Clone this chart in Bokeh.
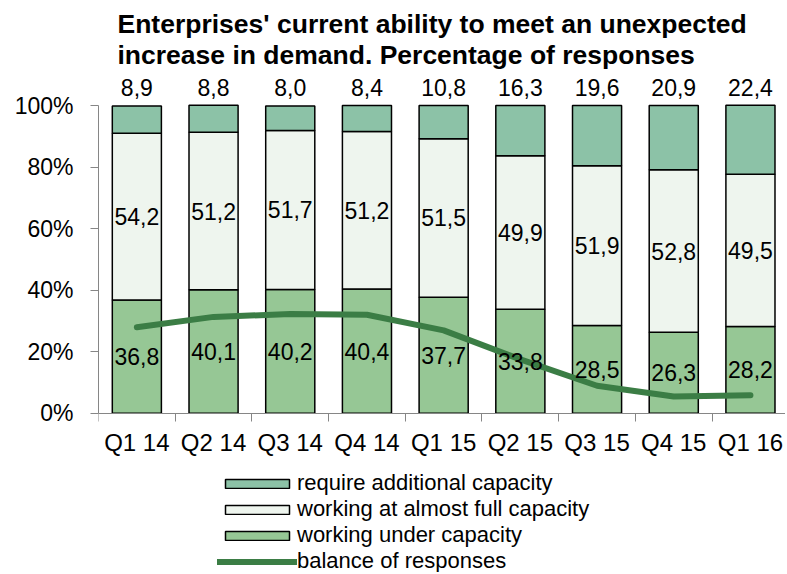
from bokeh.plotting import figure
from bokeh.models import (Range1d, FixedTicker, ColumnDataSource, LabelSet,
                          Legend, LegendItem, Title)
from bokeh.core.properties import value
from bokeh.embed import file_html
from bokeh.resources import INLINE

quarters = ["Q1 14", "Q2 14", "Q3 14", "Q4 14", "Q1 15", "Q2 15", "Q3 15", "Q4 15", "Q1 16"]
require_additional = [8.9, 8.8, 8.0, 8.4, 10.8, 16.3, 19.6, 20.9, 22.4]
almost_full = [54.2, 51.2, 51.7, 51.2, 51.5, 49.9, 51.9, 52.8, 49.5]
under_capacity = [36.8, 40.1, 40.2, 40.4, 37.7, 33.8, 28.5, 26.3, 28.2]
balance = [27.9, 31.3, 32.2, 32.0, 26.9, 17.5, 8.9, 5.4, 5.8]
y_ticks = [0, 20, 40, 60, 80, 100]
y_tick_labels = ["0%", "20%", "40%", "60%", "80%", "100%"]

FONT = "Liberation Sans"
C_TOP = "#8CC2A7"
C_MID = "#EEF5EE"
C_BOT = "#96C795"
C_LINE = "#3B7D45"
AX = "#868686"

n = len(quarters)
xc = [i + 0.5 for i in range(n)]
fmt = lambda v: f"{v:.1f}".replace(".", ",")

b0 = [0.0] * n
b1 = under_capacity
b2 = [u + f for u, f in zip(under_capacity, almost_full)]
b3 = [t + r for t, r in zip(b2, require_additional)]

src = ColumnDataSource(dict(
    x=xc, b0=b0, b1=b1, b2=b2, b3=b3,
    m_bot=[(a + b) / 2 for a, b in zip(b0, b1)],
    m_mid=[(a + b) / 2 for a, b in zip(b1, b2)],
    top=[100.0] * n,
    l_bot=[fmt(v) for v in under_capacity],
    l_mid=[fmt(v) for v in almost_full],
    l_top=[fmt(v) for v in require_additional],
    bal=balance,
))

p = figure(width=785, height=572, output_backend="svg", toolbar_location=None,
           x_range=Range1d(0, 8.957), y_range=Range1d(-51.8, 109.45),
           min_border_left=98, min_border_right=0, min_border_top=67,
           min_border_bottom=0)
p.xgrid.visible = False
p.ygrid.visible = False
p.outline_line_color = None
p.background_fill_color = "white"
p.border_fill_color = "white"

W = 0.64
r_bot = p.vbar(x="x", bottom="b0", top="b1", width=W, source=src,
               fill_color=C_BOT, line_color="black", line_width=1.5)
r_mid = p.vbar(x="x", bottom="b1", top="b2", width=W, source=src,
               fill_color=C_MID, line_color="black", line_width=1.5)
r_top = p.vbar(x="x", bottom="b2", top="b3", width=W, source=src,
               fill_color=C_TOP, line_color="black", line_width=1.5)
r_line = p.line(x="x", y="bal", source=src, line_color=C_LINE, line_width=6,
                line_cap="round", line_join="round")

lab_kw = dict(text_font=value(FONT), text_font_size=value("23px"), text_color="black",
              text_align="center", text_baseline="middle", source=src)
p.add_layout(LabelSet(x="x", y="m_bot", text="l_bot", **lab_kw))
p.add_layout(LabelSet(x="x", y="m_mid", text="l_mid", **lab_kw))
p.add_layout(LabelSet(x="x", y="top", text="l_top", y_offset=18, **lab_kw))

# axes
xa = p.xaxis[0]
xa.fixed_location = 0
xa.ticker = FixedTicker(ticks=xc, minor_ticks=list(range(n + 1)))
xa.major_label_overrides = {x: q for x, q in zip(xc, quarters)}
xa.major_tick_out = 0
xa.major_tick_in = 0
xa.minor_tick_out = 0
xa.minor_tick_in = -8
xa.minor_tick_line_color = AX
xa.axis_line_color = AX
xa.major_label_text_font = FONT
xa.major_label_text_font_size = "24px"
xa.major_label_text_color = "black"
xa.major_label_standoff = 16

ya = p.yaxis[0]
ya.ticker = FixedTicker(ticks=y_ticks, minor_ticks=[])
ya.major_label_overrides = {t: l for t, l in zip(y_ticks, y_tick_labels)}
ya.bounds = (0, 100)
ya.major_tick_out = 8
ya.major_tick_in = 0
ya.major_tick_line_color = AX
ya.axis_line_color = AX
ya.major_label_text_font = FONT
ya.major_label_text_font_size = "23px"
ya.major_label_text_color = "black"
ya.major_label_standoff = 17

# title
title = Title(text="Enterprises' current ability to meet an unexpected\nincrease in demand. Percentage of responses",
              align="left", text_font=FONT, text_font_size="26.5px",
              text_font_style="bold", text_color="black", text_line_height=1.06,
              standoff=12, offset=19)
p.add_layout(title, "above")

legend = Legend(items=[
    LegendItem(label="require additional capacity", renderers=[r_top]),
    LegendItem(label="working at almost full capacity", renderers=[r_mid]),
    LegendItem(label="working under capacity", renderers=[r_bot]),
    LegendItem(label="balance of responses", renderers=[r_line]),
], location=(119, -2), orientation="vertical", glyph_width=80, glyph_height=11,
    label_height=26, label_standoff=0, spacing=0, padding=0, margin=0,
    border_line_color=None, background_fill_alpha=0,
    label_text_font=FONT, label_text_font_size="22px", label_text_color="black")
p.add_layout(legend, "center")

open("out.html", "w").write(file_html(p, INLINE))
